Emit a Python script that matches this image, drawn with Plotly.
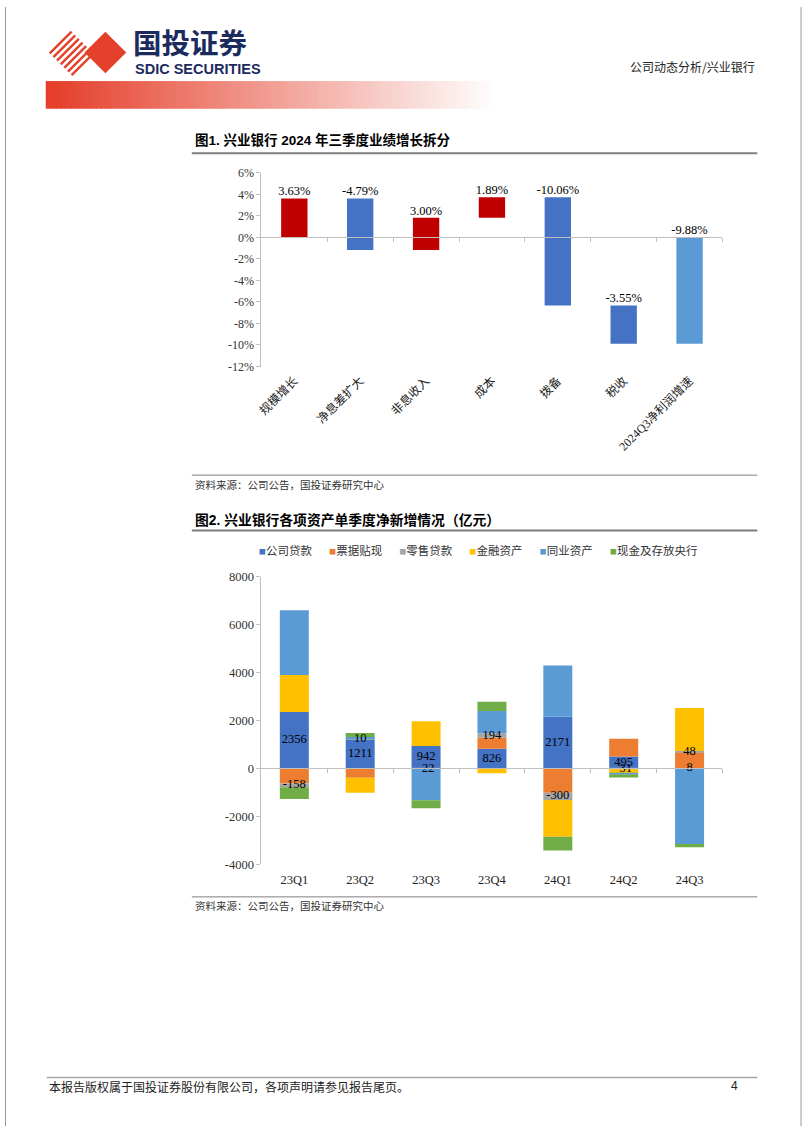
import plotly.graph_objects as go

W, H = 802, 1133


def px(x):
    return x / W


def py(y):
    return 1 - y / H


SERIF = "Liberation Serif, Noto Sans CJK SC"
CJK = "Noto Sans CJK SC"
BOLD = "Liberation Sans, Noto Sans CJK SC"

# ---------------- Chart 1 data ----------------
c1_cats = ["规模增长", "净息差扩大", "非息收入", "成本", "拨备", "税收", "2024Q3净利润增速"]
c1_vals = [3.63, -4.79, 3.00, 1.89, -10.06, -3.55, -9.88]
c1_yticks = [6, 4, 2, 0, -2, -4, -6, -8, -10, -12]

# ---------------- Chart 2 data ----------------
c2_cats = ["23Q1", "23Q2", "23Q3", "23Q4", "24Q1", "24Q2", "24Q3"]
c2_names = ["公司贷款", "票据贴现", "零售贷款", "金融资产", "同业资产", "现金及存放央行"]
corp = [2356, 1211, 942, 826, 2171, 495, 8]
bill = [-626, -390, 0, 455, -1015, 743, 674]
retail = [-158, 10, -22, 194, -300, -31, 48]
fin = [1550, -625, 1033, -200, -1537, -165, 1800]
interbank = [2700, 90, -1300, 920, 2130, -55, -3150]
cash = [-487, 170, -334, 390, -570, -130, -140]
c2_yticks = [8000, 6000, 4000, 2000, 0, -2000, -4000]

c2_series = [corp, bill, retail, fin, interbank, cash]
c2_colors = ["#4472C4", "#ED7D31", "#A5A5A5", "#FFC000", "#5B9BD5", "#70AD47"]

fig = go.Figure()

# ---- Chart 1: waterfall built from base + delta ----
bases, tops, cols = [], [], []
run = 0.0
n1 = len(c1_vals)
for i, v in enumerate(c1_vals):
    if i == n1 - 1:
        b = 0.0
        cols.append("#5B9BD5")
    else:
        b = run
        run += v
        cols.append("#C00000" if v > 0 else "#4472C4")
    bases.append(b)
    tops.append(max(b, b + v))

fig.add_trace(go.Bar(x=c1_cats, y=c1_vals, base=bases, marker=dict(color=cols, line=dict(width=0)),
                     width=0.4, xaxis="x", yaxis="y", showlegend=False, hoverinfo="skip"))
fig.add_trace(go.Scatter(x=c1_cats, y=tops, mode="text", text=[f"{v:.2f}%" for v in c1_vals],
                         textposition="top center", textfont=dict(family=SERIF, size=12.5, color="#000"),
                         xaxis="x", yaxis="y", showlegend=False, hoverinfo="skip"))
fig.add_trace(go.Scatter(x=[0], y=[0], mode="markers", marker=dict(opacity=0), xaxis="x3", yaxis="y",
                         showlegend=False, hoverinfo="skip"))

# ---- Chart 2: stacked relative bars ----
for name, vals, col in zip(c2_names, c2_series, c2_colors):
    fig.add_trace(go.Bar(x=c2_cats, y=vals, name=name, marker=dict(color=col, line=dict(width=0)),
                         width=0.44, xaxis="x2", yaxis="y2", showlegend=False, hoverinfo="skip"))

# label centres for 公司贷款 and 零售贷款 from the stacking order
centers = {0: [], 2: []}
for q in range(len(c2_cats)):
    pos, neg = 0.0, 0.0
    for si, vals in enumerate(c2_series):
        v = vals[q]
        if v >= 0:
            b = pos
            pos += v
        else:
            b = neg
            neg += v
        if si in centers:
            centers[si].append(b + v / 2)
for si in (0, 2):
    fig.add_trace(go.Scatter(x=c2_cats, y=centers[si], mode="text", text=[str(v) for v in c2_series[si]],
                             textposition="middle center", textfont=dict(family=SERIF, size=12.5, color="#000"),
                             xaxis="x2", yaxis="y2", showlegend=False, hoverinfo="skip"))
fig.add_trace(go.Scatter(x=[0], y=[0], mode="markers", marker=dict(opacity=0), xaxis="x4", yaxis="y2",
                         showlegend=False, hoverinfo="skip"))

XDOM = [px(258), px(722)]
Y1DOM = [py(364), py(168)]
Y2DOM = [py(868), py(577)]
y1_zero = Y1DOM[0] + (0 - c1_yticks[-1]) / (c1_yticks[0] - c1_yticks[-1]) * (Y1DOM[1] - Y1DOM[0])
y2_zero = Y2DOM[0] + (0 - c2_yticks[-1]) / (c2_yticks[0] - c2_yticks[-1]) * (Y2DOM[1] - Y2DOM[0])
AX = "#BFBFBF"
bounds = [i + 0.5 for i in range(len(c1_cats))]

fig.update_layout(
    width=W, height=H, margin=dict(l=0, r=0, t=0, b=0),
    paper_bgcolor="white", plot_bgcolor="rgba(0,0,0,0)",
    barmode="relative", showlegend=False,
    xaxis=dict(domain=XDOM, anchor="y", type="category", showline=False, ticks="", showgrid=False,
               tickangle=-45, tickfont=dict(family=SERIF, size=12, color="#222"), zeroline=False,
               ticklabelstandoff=4),
    yaxis=dict(domain=Y1DOM, anchor="x", range=[c1_yticks[-1], c1_yticks[0]], tickvals=c1_yticks,
               ticktext=[f"{v}%" for v in c1_yticks], showline=True, linecolor=AX, ticks="outside",
               ticklen=4, tickcolor=AX, showgrid=False, zeroline=False,
               tickfont=dict(family=SERIF, size=12, color="#333")),
    xaxis3=dict(overlaying="x", anchor="free", position=y1_zero, range=[-0.5, len(c1_cats) - 0.5],
                tickvals=bounds, ticks="outside", ticklen=4, tickcolor=AX, showline=True, linecolor=AX,
                showticklabels=False, showgrid=False, zeroline=False),
    xaxis2=dict(domain=XDOM, anchor="y2", type="category", showline=False, ticks="", showgrid=False,
                tickfont=dict(family=SERIF, size=12.5, color="#222"), zeroline=False,
                ticklabelstandoff=6),
    yaxis2=dict(domain=Y2DOM, anchor="x2", range=[c2_yticks[-1], c2_yticks[0]], tickvals=c2_yticks,
                ticktext=[str(v) for v in c2_yticks], showline=True, linecolor=AX, ticks="outside",
                ticklen=4, tickcolor=AX, showgrid=False, zeroline=False,
                tickfont=dict(family=SERIF, size=12.5, color="#333")),
    xaxis4=dict(overlaying="x2", anchor="free", position=y2_zero, range=[-0.5, len(c2_cats) - 0.5],
                tickvals=bounds, ticks="outside", ticklen=4, tickcolor=AX, showline=True, linecolor=AX,
                showticklabels=False, showgrid=False, zeroline=False),
)

# ---------------- decorations ----------------
shapes = []


def line(x0, y0, x1, y1, color, w):
    shapes.append(dict(type="line", xref="paper", yref="paper", x0=px(x0), y0=py(y0), x1=px(x1), y1=py(y1),
                       line=dict(color=color, width=w), layer="below"))


# page border
line(0.5, 0, 0.5, H, "#9A9A9A", 1)
line(801, 0, 801, H, "#9A9A9A", 1)

# gradient band
N = 90
x_start, x_end = 41, 496
for i in range(N):
    t = i / (N - 1)
    r = int(229 + 26 * t)
    g = int(62 + 193 * t)
    b = int(42 + 213 * t)
    shapes.append(dict(type="rect", xref="paper", yref="paper",
                       x0=px(x_start + i * (x_end - x_start) / N), x1=px(x_start + (i + 1.2) * (x_end - x_start) / N),
                       y0=py(103), y1=py(75), fillcolor=f"rgb({r},{g},{b})", line=dict(width=0), layer="below"))

# logo: solid diamond + stripes
RED = "#E5402B"
cx, cy, rr = 101, 46, 21
path = (f"M {px(cx)},{py(cy - rr)} L {px(cx + rr)},{py(cy)} L {px(cx)},{py(cy + rr)} "
        f"L {px(cx - rr)},{py(cy)} Z")
shapes.append(dict(type="path", xref="paper", yref="paper", path=path, fillcolor=RED, line=dict(width=0)))
scx, scy, sr = 67, 47, 22
ns = 7
for k in range(ns):
    c = -sr + 2 * sr * k / (ns - 1)
    x0, y0 = scx + (c - sr) / 2, scy + (c + sr) / 2
    x1, y1 = scx + (c + sr) / 2, scy + (c - sr) / 2
    line(x0, y0, x1, y1, RED, 2.4)

# title / source lines
line(188, 148, 757, 148, "#7F7F7F", 2)
line(188, 474, 757, 474, "#7F7F7F", 1)
line(188, 530, 757, 530, "#7F7F7F", 2)
line(188, 901, 757, 901, "#7F7F7F", 1)
line(42, 1084, 757, 1084, "#A6A6A6", 1.5)

fig.update_layout(shapes=shapes)

ann = []


def text(x, y, s, size, family=CJK, color="#000", xanchor="left", bold=False, yanchor="middle"):
    if bold:
        s = f"<b>{s}</b>"
    ann.append(dict(xref="paper", yref="paper", x=px(x), y=py(y), text=s, showarrow=False,
                    xanchor=xanchor, yanchor=yanchor, font=dict(family=family, size=size, color=color)))


text(127, 35, "国投证券", 28.5, family=CJK, color="#1C2B5E", bold=True)
text(129, 63, "SDIC SECURITIES", 14.5, family="Liberation Sans", color="#1C2B5E", bold=True)
text(757, 60, "公司动态分析/兴业银行", 12, family=CJK, color="#222", xanchor="right")

text(189, 135, "图1. 兴业银行 2024 年三季度业绩增长拆分", 13.5, family=BOLD, bold=True)
text(189, 483, "资料来源：公司公告，国投证券研究中心", 10.5, family=CJK, color="#333")
text(189, 519, "图2. 兴业银行各项资产单季度净新增情况（亿元）", 13.8, family=BOLD, bold=True)
text(189, 910, "资料来源：公司公告，国投证券研究中心", 10.5, family=CJK, color="#333")

legend_txt = "　&nbsp;&nbsp;".join(f"<span style='color:{c}'>■</span>{n}" for n, c in zip(c2_names, c2_colors))
text(476, 550, legend_txt, 11.5, family=SERIF, color="#333", xanchor="center")

text(42, 1093, "本报告版权属于国投证券股份有限公司，各项声明请参见报告尾页。", 12, family=CJK, color="#222")
text(740, 1093, "4", 12, family="Liberation Sans", color="#222", xanchor="right")

fig.update_layout(annotations=ann)

post = """
document.documentElement.style.margin='0';
document.documentElement.style.overflow='hidden';
document.body.style.margin='0';
document.body.style.padding='0';
document.body.style.overflow='hidden';
"""
fig.write_html("out.html", config={"displayModeBar": False}, post_script=post)
